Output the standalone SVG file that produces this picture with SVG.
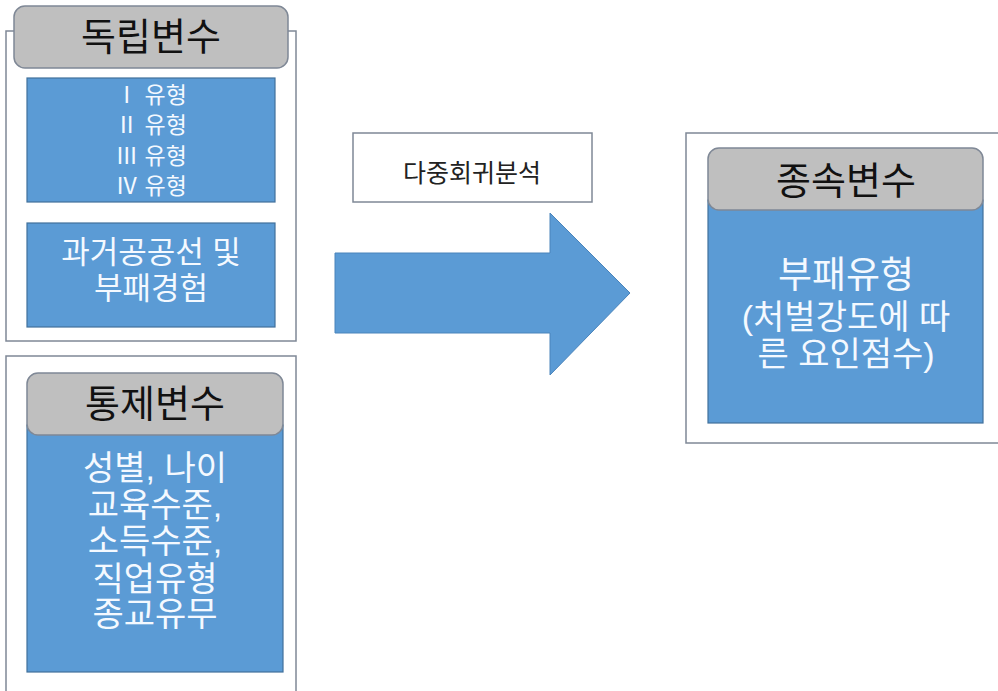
<svg xmlns="http://www.w3.org/2000/svg" width="998" height="691" viewBox="0 0 998 691">
<style>
.frame{fill:#ffffff;stroke:#7f8896;stroke-width:1.5}
.hdr{fill:#bfbfbf;stroke:#7f8896;stroke-width:1.5}
.blue{fill:#5b9bd5;stroke:#41719c;stroke-width:1.2}
.t{font-family:"Liberation Sans","Noto Sans CJK KR",sans-serif;text-anchor:middle;dominant-baseline:central}
.hd{fill:#111111;font-size:38px}
.w{fill:#f4f9ff}
</style>
<rect width="998" height="691" fill="#ffffff"/>
<g id="independent">
<rect class="frame" x="6" y="31" width="290" height="310"/>
<rect class="hdr" x="14" y="6" width="274" height="62" rx="11"/>
<text class="t hd" x="151" y="37">독립변수</text>
<rect class="blue" x="27" y="78" width="248" height="124"/>
<text class="t w" font-size="23" x="151" y="95">Ⅰ 유형</text>
<text class="t w" font-size="23" x="151" y="125">Ⅱ 유형</text>
<text class="t w" font-size="23" x="151" y="156">Ⅲ 유형</text>
<text class="t w" font-size="23" x="151" y="186">Ⅳ 유형</text>
<rect class="blue" x="27" y="223" width="248" height="104"/>
<text class="t w" font-size="31" x="151" y="252">과거공공선 및</text>
<text class="t w" font-size="31" x="151" y="288">부패경험</text>
</g>
<g id="control">
<rect class="frame" x="6" y="356" width="290" height="345"/>
<rect class="blue" x="27" y="425" width="256" height="247"/>
<rect class="hdr" x="27" y="373" width="256" height="62" rx="11"/>
<text class="t hd" x="155" y="404">통제변수</text>
<text class="t w" font-size="34" x="155" y="468">성별, 나이</text>
<text class="t w" font-size="34" x="155" y="505">교육수준,</text>
<text class="t w" font-size="34" x="155" y="541">소득수준,</text>
<text class="t w" font-size="34" x="155" y="579">직업유형</text>
<text class="t w" font-size="34" x="155" y="614">종교유무</text>
</g>
<g id="method">
<rect x="353" y="133" width="239" height="69" fill="#ffffff" stroke="#7f8896" stroke-width="1.5"/>
<text class="t" fill="#222222" font-size="25" x="472" y="173">다중회귀분석</text>
</g>
<g id="connectors">
<polygon points="335,253 550,253 550,213 630,293 550,375 550,333 335,333" fill="#5b9bd5" stroke="#4a84bb" stroke-width="1"/>
</g>
<g id="dependent">
<rect class="frame" x="686" y="133" width="330" height="310"/>
<rect class="blue" x="708" y="200" width="275" height="223"/>
<rect class="hdr" x="708" y="148" width="275" height="62" rx="11"/>
<text class="t hd" x="846" y="181">종속변수</text>
<text class="t w" font-size="37" x="846" y="275">부패유형</text>
<text class="t w" font-size="34" x="846" y="317">(처벌강도에 따</text>
<text class="t w" font-size="34" x="846" y="354">른 요인점수)</text>
</g>
</svg>
